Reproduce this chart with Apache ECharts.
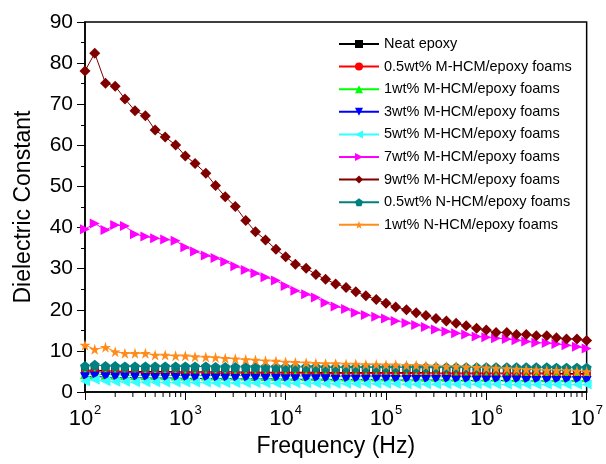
<!DOCTYPE html>
<html>
<head>
<meta charset="utf-8">
<script src="https://cdn.jsdelivr.net/npm/echarts@6/dist/echarts.min.js"></script>
<style>
  html, body { margin: 0; padding: 0; background: #fff; }
  #chart { width: 606px; height: 464px; }
</style>
</head>
<body>
<div id="chart"></div>
<script>
// frequency points (Hz), 10 per decade
const freq = [100, 125, 160, 200, 250, 315, 400, 500, 630, 800,
  1000, 1250, 1600, 2000, 2500, 3150, 4000, 5000, 6300, 8000,
  10000, 12500, 16000, 20000, 25000, 31500, 40000, 50000, 63000, 80000,
  100000, 125000, 160000, 200000, 250000, 315000, 400000, 500000, 630000, 800000,
  1000000, 1250000, 1600000, 2000000, 2500000, 3150000, 4000000, 5000000, 6300000, 8000000, 10000000];

const xTicks = [100, 1000, 10000, 100000, 1000000, 10000000];
const yTicks = [0, 10, 20, 30, 40, 50, 60, 70, 80, 90];

const neatEpoxy = [5.2,5.4,5.1,5.1,5.0,5.0,5.0,5.0,5.0,4.9, 4.9,4.9,4.9,4.9,4.9,4.9,4.8,4.8,4.8,4.8,
  4.8,4.8,4.8,4.8,4.7,4.7,4.7,4.7,4.7,4.7, 4.7,4.7,4.7,4.7,4.7,4.6,4.6,4.6,4.6,4.6,
  4.6,4.6,4.6,4.6,4.6,4.6,4.6,4.5,4.5,4.5,4.5];
const m05 = [4.9,5.0,4.8,4.8,4.8,4.8,4.7,4.7,4.7,4.7, 4.7,4.7,4.7,4.6,4.6,4.6,4.6,4.6,4.6,4.6,
  4.6,4.6,4.5,4.5,4.5,4.5,4.5,4.5,4.5,4.5, 4.5,4.5,4.5,4.5,4.4,4.4,4.4,4.4,4.4,4.4,
  4.4,4.4,4.4,4.4,4.4,4.4,4.4,4.4,4.3,4.3,4.3];
const m1 = [4.3,4.4,4.2,4.2,4.1,4.1,4.1,4.1,4.1,4.0, 4.0,4.0,4.0,4.0,4.0,4.0,4.0,3.9,3.9,3.9,
  3.9,3.9,3.9,3.9,3.9,3.8,3.8,3.8,3.8,3.8, 3.8,3.8,3.8,3.8,3.7,3.7,3.7,3.7,3.7,3.7,
  3.7,3.7,3.7,3.6,3.6,3.6,3.6,3.6,3.6,3.6,3.6];
const m3 = [3.6,3.8,3.6,3.5,3.5,3.5,3.4,3.4,3.4,3.4, 3.3,3.3,3.3,3.3,3.3,3.2,3.2,3.2,3.2,3.2,
  3.1,3.1,3.1,3.1,3.1,3.0,3.0,3.0,3.0,3.0, 3.0,2.9,2.9,2.9,2.9,2.9,2.9,2.8,2.8,2.8,
  2.8,2.8,2.8,2.8,2.7,2.7,2.7,2.7,2.7,2.7,2.7];
const m5 = [2.6,3.0,2.6,2.5,2.5,2.4,2.4,2.4,2.3,2.3, 2.3,2.3,2.3,2.2,2.2,2.2,2.2,2.2,2.1,2.1,
  2.1,2.1,2.1,2.1,2.0,2.0,2.0,2.0,2.0,2.0, 2.0,2.0,1.9,1.9,1.9,1.9,1.9,1.9,1.9,1.9,
  1.9,1.9,1.8,1.8,1.8,1.8,1.8,1.8,1.8,1.8,1.8];
const m7 = [39.6,41.0,39.4,40.6,40.4,38.4,37.8,37.4,37.1,36.8, 35.2,34.2,33.2,32.6,31.7,30.6,29.7,28.9,27.9,27.1,
  25.8,24.6,23.8,23.0,21.7,20.8,20.2,19.3,18.7,18.3, 17.9,17.3,16.8,16.3,15.8,15.2,14.7,14.3,14.0,13.5,
  13.3,13.1,12.9,12.6,12.3,12.0,11.9,11.7,11.4,11.0,10.6];
const m9 = [78.1,82.4,75.1,74.4,71.3,68.4,67.2,63.7,62.0,60.1, 57.4,55.6,53.2,50.2,47.5,45.1,41.7,39.0,37.0,34.7,
  32.9,31.1,30.1,28.6,27.4,26.3,25.4,24.4,23.4,22.5, 21.6,20.7,20.0,19.3,18.6,17.9,17.3,16.7,16.1,15.5,
  15.1,14.5,14.5,14.0,14.0,13.7,13.7,13.2,12.9,12.9,12.5];
const n05 = [6.3,6.6,6.3,6.3,6.2,6.2,6.2,6.2,6.2,6.2, 6.2,6.2,6.2,6.1,6.1,6.1,6.1,6.1,6.1,6.1,
  6.1,6.1,6.1,6.1,6.0,6.0,6.0,6.0,6.0,6.0, 6.0,6.0,6.0,6.0,6.0,6.0,6.0,6.0,6.0,6.0,
  6.0,6.0,6.0,6.0,6.0,6.0,6.0,5.9,5.9,5.9,5.9];
const n1 = [11.4,10.4,10.9,9.8,9.4,9.4,9.4,9.0,9.0,8.8, 8.8,8.6,8.5,8.4,8.2,8.1,7.9,7.8,7.6,7.5,
  7.3,7.2,7.1,7.0,6.9,6.9,6.8,6.8,6.7,6.7, 6.6,6.6,6.5,6.5,6.4,6.3,6.2,6.2,6.1,6.0,
  5.9,5.8,5.7,5.6,5.5,5.4,5.3,5.3,5.2,5.1,5.0];

const names = ['Neat epoxy', '0.5wt% M-HCM/epoxy foams', '1wt% M-HCM/epoxy foams', '3wt% M-HCM/epoxy foams',
  '5wt% M-HCM/epoxy foams', '7wt% M-HCM/epoxy foams', '9wt% M-HCM/epoxy foams',
  '0.5wt% N-HCM/epoxy foams', '1wt% N-HCM/epoxy foams'];
const values = [neatEpoxy, m05, m1, m3, m5, m7, m9, n05, n1];
const colors = ['#000000', '#ff0000', '#00ff00', '#0000ff', '#33ffff', '#ff00ff', '#800000', '#008080', '#ff8c1a'];
const symbols = [
  'rect', 'circle', 'triangle',
  'path://M0,0 L10,0 L5,9 Z',
  'path://M0,5 L9,0 L9,10 Z',
  'path://M0,0 L9,5 L0,10 Z',
  'diamond',
  'path://M50,0 L97.6,34.5 L79.4,90.5 L20.6,90.5 L2.4,34.5 Z',
  'path://M50,0 L61.2,34.5 L97.6,34.5 L68.2,55.9 L79.4,90.5 L50,69.1 L20.6,90.5 L31.8,55.9 L2.4,34.5 L38.8,34.5 Z'
];
const sizes = [8, 8, 10, 10, 10, 10, 11, 10, 11];

// minor ticks of the log axis (2..9 of each decade)
const minorTicks = [];
for (let d = 100; d < 10000000; d *= 10) {
  for (let k = 2; k <= 9; k++) minorTicks.push([k * d, 0]);
}

const font = 'Liberation Sans, Arial, sans-serif';

let seriesData = [];
for (let i = 0; i < names.length; i++) {
  seriesData.push({
    name: names[i],
    type: 'line',
    data: freq.map((f, j) => [f, values[i][j]]),
    symbol: symbols[i],
    symbolSize: sizes[i],
    showAllSymbol: true,
    itemStyle: { color: colors[i] },
    lineStyle: { color: colors[i], width: 1 },
    emphasis: { disabled: true }
  });
}
seriesData.push({
  type: 'custom',
  silent: true,
  clip: false,
  z: 10,
  data: minorTicks,
  renderItem: function (params, api) {
    const p = api.coord([api.value(0), 0]);
    return {
      type: 'line',
      shape: { x1: p[0], y1: p[1], x2: p[0], y2: p[1] + 5 },
      style: { stroke: '#000', lineWidth: 1 }
    };
  }
});

const chart = echarts.init(document.getElementById('chart'), null, { renderer: 'canvas' });
chart.setOption({
  animation: false,
  backgroundColor: '#fff',
  grid: {
    left: 85, top: 22, right: 18, bottom: 72,
    show: true, borderColor: '#000', borderWidth: 1.5
  },
  legend: {
    data: names,
    orient: 'vertical',
    left: 338,
    top: 36,
    padding: 0,
    itemWidth: 40,
    itemHeight: 10,
    itemGap: 6.6,
    textStyle: { color: '#000', fontSize: 14.5, fontFamily: font, lineHeight: 16 }
  },
  xAxis: {
    type: 'log',
    logBase: 10,
    min: xTicks[0],
    max: xTicks[xTicks.length - 1],
    splitNumber: 5,
    name: 'Frequency (Hz)',
    nameLocation: 'middle',
    nameGap: 36,
    nameTextStyle: { color: '#000', fontSize: 23, fontFamily: font },
    axisLine: { lineStyle: { color: '#000', width: 1.5 } },
    axisTick: { length: 8, lineStyle: { color: '#000', width: 1 } },
    splitLine: { show: false },
    axisLabel: {
      margin: 12,
      color: '#000',
      fontFamily: font,
      formatter: function (v) {
        return '{b|10}{s|' + Math.round(Math.log10(v)) + '}';
      },
      rich: {
        b: { fontSize: 22, fontFamily: font, color: '#000', lineHeight: 26, verticalAlign: 'bottom' },
        s: { fontSize: 13, fontFamily: font, color: '#000', lineHeight: 26, verticalAlign: 'top', padding: [0, 0, 0, 1] }
      }
    }
  },
  yAxis: {
    type: 'value',
    min: yTicks[0],
    max: yTicks[yTicks.length - 1],
    interval: 10,
    name: 'Dielectric Constant',
    nameLocation: 'middle',
    nameGap: 50,
    nameTextStyle: { color: '#000', fontSize: 23, fontFamily: font },
    axisLine: { show: true, lineStyle: { color: '#000', width: 1.5 } },
    axisTick: { show: true, length: 8, lineStyle: { color: '#000', width: 1 } },
    minorTick: { show: true, splitNumber: 2, length: 4, lineStyle: { color: '#000', width: 1 } },
    splitLine: { show: false },
    axisLabel: { margin: 12, color: '#000', fontSize: 21, fontFamily: font }
  },
  series: seriesData
});
</script>
</body>
</html>
